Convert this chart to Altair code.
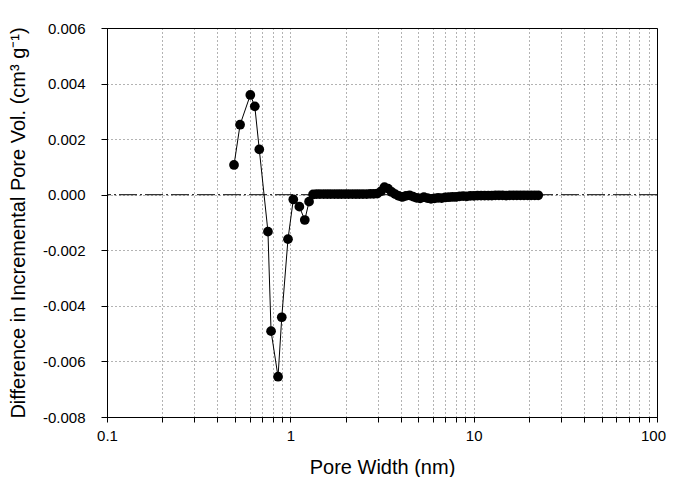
import altair as alt
import pandas as pd

# Pore width (nm) and difference in incremental pore volume (cm3/g)
width_nm = [0.493, 0.532, 0.605, 0.640, 0.677, 0.755, 0.785, 0.857, 0.898, 0.971,
            1.038, 1.12, 1.199, 1.265,
            1.33, 1.39, 1.45, 1.52, 1.59, 1.66, 1.74, 1.82, 1.90, 1.99,
            2.08, 2.18, 2.28, 2.38, 2.49, 2.61, 2.73, 2.85, 2.98, 3.12,
            3.26, 3.41, 3.57, 3.73, 3.90, 4.08, 4.27, 4.47, 4.67, 4.89,
            5.11, 5.35, 5.59, 5.85, 6.12, 6.40, 6.69, 7.00, 7.32, 7.66,
            8.01, 8.38, 8.77, 9.17, 9.59, 10.03, 10.49, 10.97, 11.48, 12.01,
            12.56, 13.14, 13.74, 14.37, 15.03, 15.72, 16.45, 17.20, 17.99, 18.82,
            19.69, 20.59, 21.54, 22.5]
diff_vol = [0.00107, 0.00252, 0.00359, 0.00318, 0.00163, -0.00133, -0.00491, -0.00655, -0.00441, -0.00160,
            -0.00017, -0.00043, -0.00091, -0.00025,
            0.00001, 0.00002, 0.00002, 0.00002, 0.00002, 0.00002, 0.00002, 0.00002, 0.00002, 0.00002,
            0.00002, 0.00002, 0.00002, 0.00002, 0.00002, 0.00002, 0.00003, 0.00003, 0.00004, 0.00012,
            0.00027, 0.00022, 0.00010, 0.00002, -0.00004, -0.00008, -0.00004, -0.00002, -0.00007, -0.00011,
            -0.00013, -0.00009, -0.00012, -0.00015, -0.00013, -0.00011, -0.00012, -0.00010, -0.00009, -0.00008,
            -0.00008, -0.00006, -0.00005, -0.00006, -0.00004, -0.00004, -0.00003, -0.00003, -0.00003, -0.00003,
            -0.00003, -0.00002, -0.00002, -0.00002, -0.00003, -0.00002, -0.00002, -0.00002, -0.00002, -0.00002,
            -0.00002, -0.00002, -0.00002, -0.00002]

x_grid = [0.1, 0.2, 0.3, 0.4, 0.5, 0.6, 0.7, 0.8, 0.9,
          1, 2, 3, 4, 5, 6, 7, 8, 9,
          10, 20, 30, 40, 50, 60, 70, 80, 90, 100]
y_ticks = [-0.008, -0.006, -0.004, -0.002, 0.0, 0.002, 0.004, 0.006]

df = pd.DataFrame({"w": width_nm, "v": diff_vol})

FONT = "Liberation Sans"

xscale = alt.Scale(type="log", domain=[0.1, 100], nice=False)
yscale = alt.Scale(domain=[-0.008, 0.006], nice=False, zero=False)

xaxis = alt.Axis(
    values=x_grid,
    labelExpr="datum.value == 0.1 ? '0.1' : datum.value == 1 ? '1' : datum.value == 10 ? '10' : datum.value == 100 ? '100' : ''",
    labelFlush=False, labelFontSize=15,
    labelOffset={"condition": {"test": "datum.value == 100", "value": -4}, "value": 0},
    title="Pore Width (nm)",
    grid=True, gridDash=[1, 3], gridColor="#000000", gridOpacity=0.6,
    tickSize=5, labelPadding=6, titlePadding=14, titleFontSize=20,
)
yaxis = alt.Axis(
    values=y_ticks,
    labelExpr="replace(format(datum.value, '.3f'), '\u2212', '-')",
    labelFontSize=15,
    title="Difference in Incremental Pore Vol. (cm³ g⁻¹)",
    grid=True, gridDash=[1, 3], gridColor="#000000", gridOpacity=0.6,
    tickSize=6, labelPadding=16, titlePadding=14, titleFontSize=20,
)

zero = alt.Chart(pd.DataFrame({"z": [0.0]})).mark_rule(
    color="#000000", strokeWidth=1, strokeDash=[18, 3, 2, 3]
).encode(y=alt.Y("z:Q", scale=yscale, axis=yaxis))

line = alt.Chart(df).mark_line(color="#000000", strokeWidth=1).encode(
    x=alt.X("w:Q", scale=xscale, axis=xaxis),
    y=alt.Y("v:Q", scale=yscale, axis=yaxis),
)
pts = alt.Chart(df).mark_circle(color="#000000", size=95, opacity=1).encode(
    x=alt.X("w:Q", scale=xscale, axis=xaxis),
    y=alt.Y("v:Q", scale=yscale, axis=yaxis),
)

chart = alt.layer(zero, line, pts).properties(
    width=550, height=389,
    background="white",
    autosize=alt.AutoSizeParams(type="none"),
    padding={"left": 99, "top": 20, "right": 10, "bottom": 60},
).configure_view(
    stroke="#000000", strokeWidth=1
).configure_axis(
    domainColor="#000000", tickColor="#000000", labelColor="#000000", titleColor="#000000",
    labelFont=FONT, titleFont=FONT,
    titleFontWeight="normal",
)

chart.save("out.html", embed_options={"renderer": "svg", "actions": False})
